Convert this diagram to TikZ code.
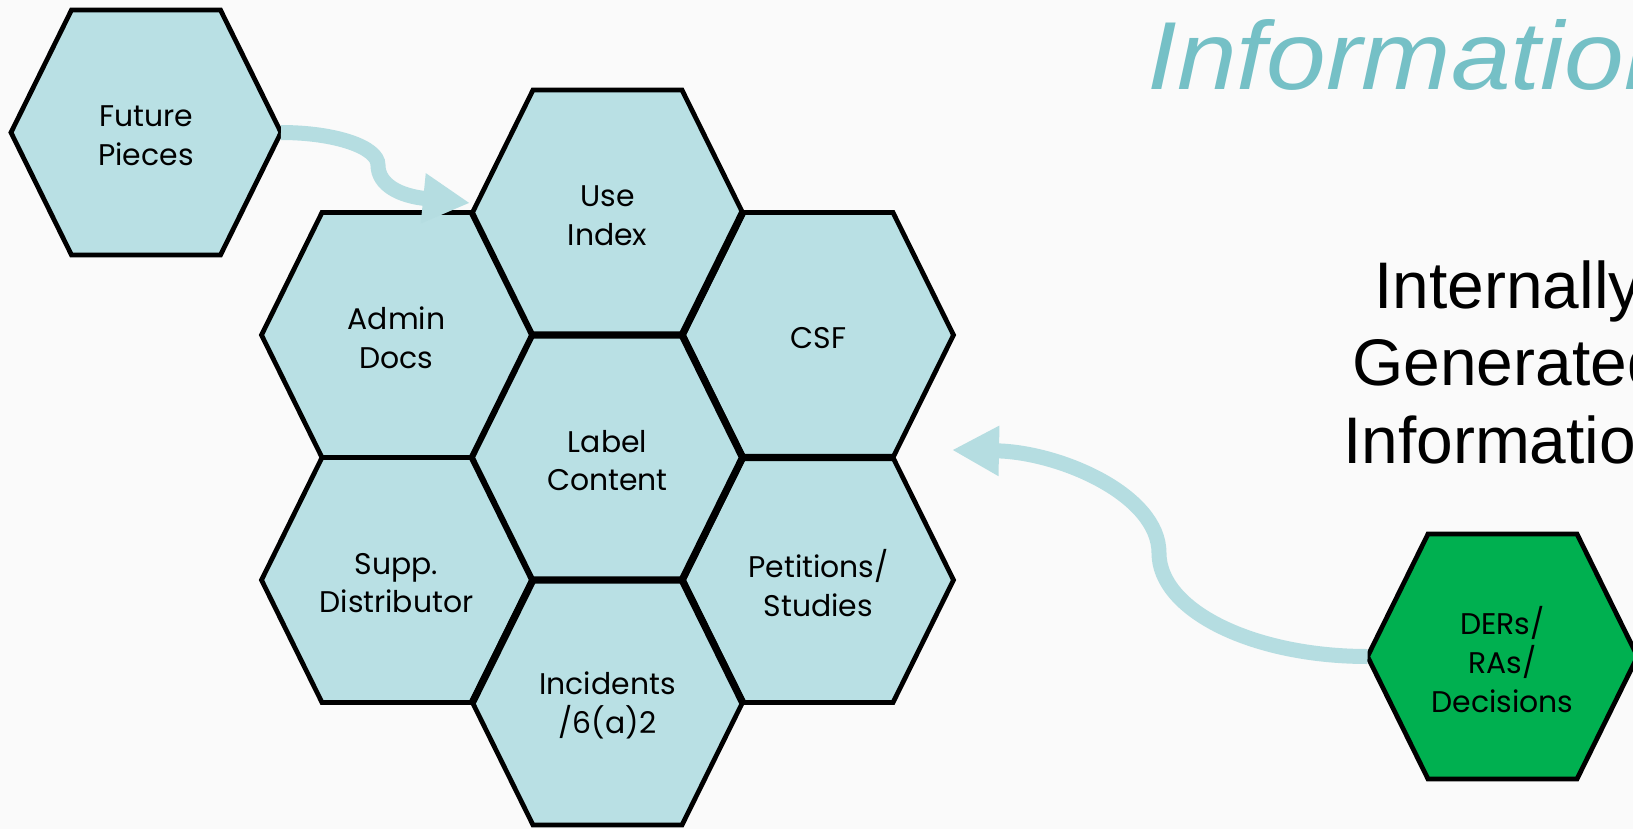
\documentclass[tikz,border=0pt]{standalone}
\usepackage{fontspec}
\setmainfont{Poppins}
\newfontfamily\arialfont{Liberation Sans}
\usetikzlibrary{arrows.meta}

\definecolor{cellblue}{RGB}{185,224,228}
\definecolor{flowblue}{RGB}{181,221,225}
\definecolor{derfill}{RGB}{0,176,80}
\definecolor{titleteal}{RGB}{117,192,198}
\definecolor{slidebg}{RGB}{250,250,250}

\begin{document}
\begin{tikzpicture}[x=0.02cm, y=-0.02cm,
		hexcell/.style={draw=black, line width=2.7pt, line join=miter},
		seam/.style={draw=black, line width=4pt, line join=miter},
		celltext/.style={minimum width=5.4cm, minimum height=4.9cm, inner sep=0pt, outer sep=0pt,
			yshift=-0.06cm, align=center, font=\fontsize{17}{22}\selectfont},
		flow/.style={draw=flowblue, line width=0.3cm, -{Triangle[length=0.94cm, width=0.94cm]}}
	]
	\fill[slidebg] (0,0) rectangle (1633,829);
	\useasboundingbox (0,0) rectangle (1633,829);
	% honeycomb cells
	\foreach \cell/\pos/\txt/\col in {
		fut/{146,132.5}/{Future\\Pieces}/cellblue,
		use/{607.5,212.5}/{Use\\Index}/cellblue,
		admin/{396.5,335}/{Admin\\Docs}/cellblue,
		csf/{818.5,335}/{CSF}/cellblue,
		label/{607.5,457.5}/{Label\\Content}/cellblue,
		supp/{396.5,580}/{Supp.\\Distributor}/cellblue,
		petit/{818.5,580}/{Petitions/\\Studies}/cellblue,
		incid/{607.5,702.5}/{Incidents\\/6(a)2}/cellblue,
		ders/{1502.5,656.5}/{DERs/\\RAs/\\Decisions}/derfill}
	{
		\draw[hexcell, fill=\col] (\pos) ++(135,0) coordinate (\cell-1) -- ++(-60.5,-122.5) coordinate (\cell-2)
			-- ++(-149,0) coordinate (\cell-3) -- ++(-60.5,122.5) coordinate (\cell-4)
			-- ++(60.5,122.5) coordinate (\cell-5) -- ++(149,0) coordinate (\cell-6) -- cycle;
		\node[celltext] (\cell) at (\pos) {\txt};
	}
	% heavier seams
	\draw[seam] (use-1) -- (use-6) -- (label-1) -- (label-6) -- (incid-1);
	\draw[seam] (use-5) -- (use-6) (label-5) -- (label-6) (csf-5) -- (csf-6) (incid-3) -- (incid-4);
	% titles
	\node[anchor=base west, text=titleteal, font=\arialfont\itshape\fontsize{55}{60}\selectfont]
		(title) at (1141,89) {\scalebox{1.11}[1]{Information}};
	\node[anchor=base, align=center, font=\arialfont\fontsize{37.5}{44}\selectfont]
		(internal) at (1508,463) {Internally\\Generated\\Information};
	% flows
	\draw[flow] (fut-1) .. controls (335,132.5) and (378,147) .. (378,165)
		.. controls (378,185) and (400,196) .. ([shift={(-2.5,-9.5)}]use-4);
	\draw[flow] (ders-4) .. controls (1252,656.5) and (1159,610) .. (1159,553)
		.. controls (1159,495) and (1060,452) .. ([shift={(-1.5,-7.5)}]csf-6 -| csf-1);
\end{tikzpicture}
\end{document}
